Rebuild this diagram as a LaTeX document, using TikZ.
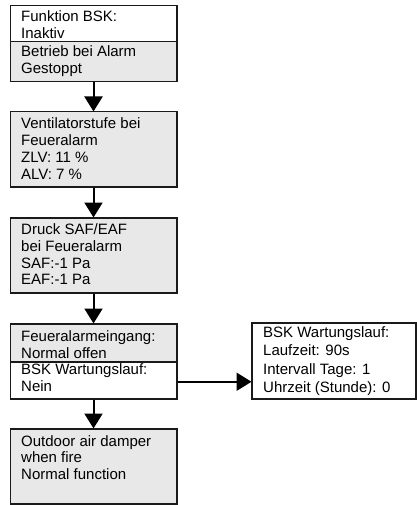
\documentclass[tikz,border=0pt]{standalone}
\usepackage{fontspec}
\setmainfont{Liberation Sans}
\usetikzlibrary{arrows.meta}
\definecolor{boxgray}{HTML}{E8E8E8}
\definecolor{boxline}{HTML}{1A1A1A}
\tikzset{
  box/.style={draw=boxline, line width=1.5pt, rectangle, inner sep=0pt, anchor=north west},
  graybox/.style={box, fill=boxgray},
  whitebox/.style={box, fill=white},
  txt/.style={anchor=base west, inner sep=0pt, font=\fontsize{15}{16.8}\selectfont},
  txtr/.style={anchor=base west, inner sep=0pt, font=\fontsize{15}{18.5}\selectfont},
  flow/.style={line width=2pt, draw=black, -{Triangle[width=18pt,length=15pt]}, shorten >=-0.5pt}
}
\newcommand{\boxtext}[1]{\parbox[t]{160pt}{\raggedright #1}}
\begin{document}
\begin{tikzpicture}[x=1pt,y=-1pt]
\useasboundingbox (0,0) rectangle (416,505);
% boxes
\node[whitebox, minimum width=166.5pt, minimum height=36pt] (b1a) at (9.5,5) {};
\node[graybox, minimum width=166.5pt, minimum height=40pt] (b1b) at (9.5,41) {};
\node[graybox, minimum width=166.5pt, minimum height=75pt] (b2) at (9.5,111) {};
\node[graybox, minimum width=166.5pt, minimum height=75pt] (b3) at (9.5,217) {};
\node[graybox, minimum width=166.5pt, minimum height=38pt] (b4a) at (9.5,323) {};
\node[whitebox, minimum width=166.5pt, minimum height=37pt] (b4b) at (9.5,361) {};
\node[graybox, minimum width=166.5pt, minimum height=75pt] (b5) at (9.5,428) {};
\node[whitebox, minimum width=164pt, minimum height=76pt] (r) at (251,322) {};
% texts
\node[txt] (t1a) at (21,21.5) {\boxtext{Funktion BSK:\\Inaktiv}};
\node[txt] (t1b) at (21,56.5) {\boxtext{Betrieb bei Alarm\\Gestoppt}};
\node[txt] (t2) at (21,129) {\boxtext{Ventilatorstufe bei\\Feueralarm\\ZLV: 11 \%\\ALV: 7 \%}};
\node[txt] (t3) at (21,234.5) {\boxtext{Druck SAF/EAF\\bei Feueralarm\\SAF:-1 Pa\\EAF:-1 Pa}};
\node[txt] (t4a) at (21,341.5) {\boxtext{Feueralarmeingang:\\Normal offen}};
\node[txt] (t4b) at (21,374.5) {\boxtext{BSK Wartungslauf:\\Nein}};
\node[txt] (t5) at (21,446) {\boxtext{Outdoor air damper\\when fire\\Normal function}};
\node[txtr] (tr) at (263,337) {\boxtext{BSK Wartungslauf:\\Laufzeit: 90s\\Intervall Tage: 1\\Uhrzeit (Stunde): 0}};
% connectors
\draw[flow] (b1b.south) -- (b2.north);
\draw[flow] (b2.south) -- (b3.north);
\draw[flow] (b3.south) -- (b4a.north);
\draw[flow] (b4b.south) -- (b5.north);
\draw[flow] ([yshift=-1.5pt]b4b.east) -- ([yshift=-1.5pt]b4b.east -| r.west);
\end{tikzpicture}
\end{document}
